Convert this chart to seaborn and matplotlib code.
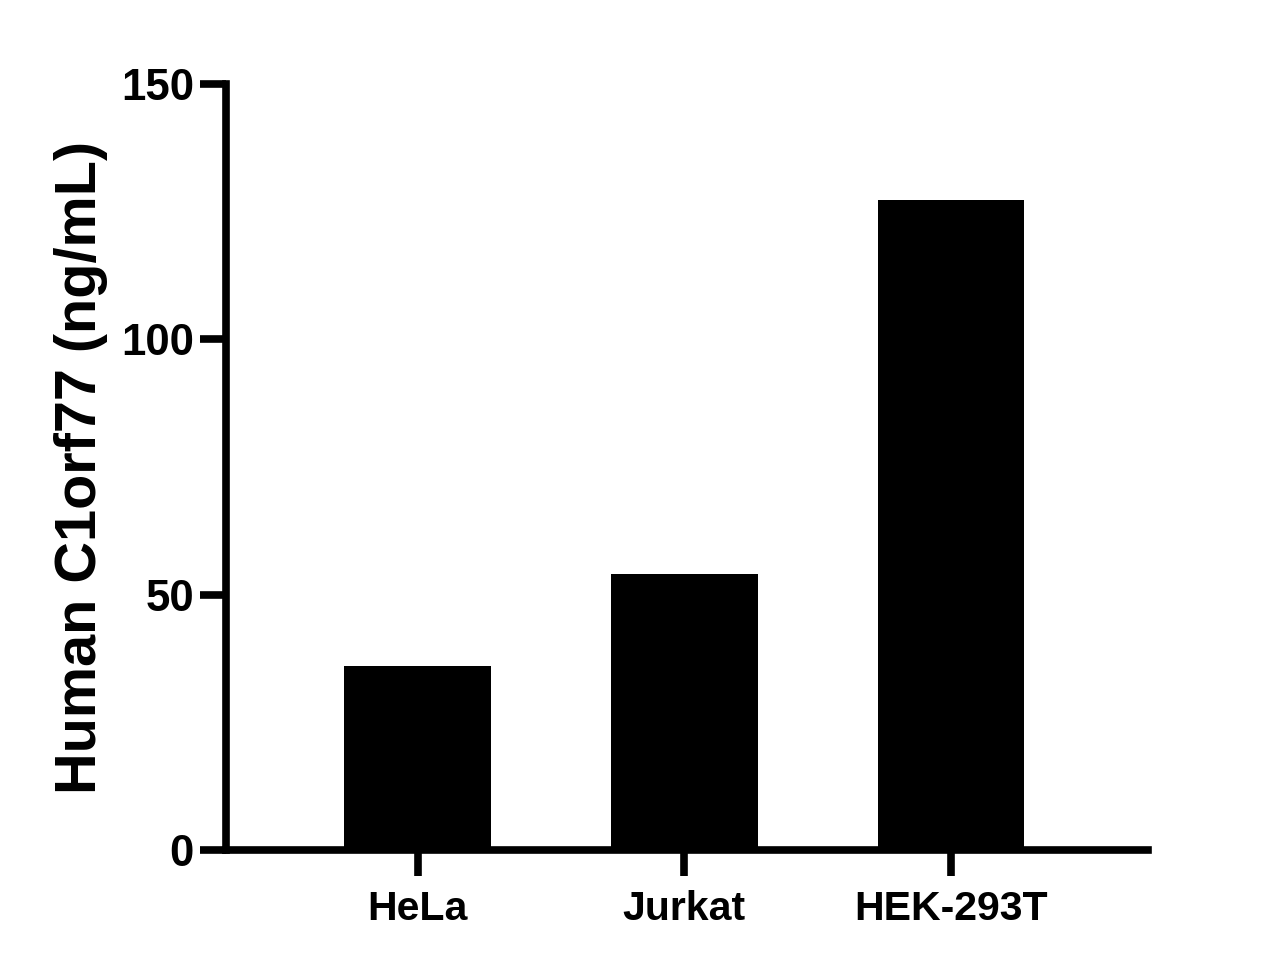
import matplotlib
matplotlib.use("Agg")
import matplotlib.pyplot as plt
import seaborn as sns
import pandas as pd

# valores
lineas = ["HeLa", "Jurkat", "HEK-293T"]
concentracion = [36.0, 54.0, 127.3]
ticks_y = [0, 50, 100, 150]

datos = pd.DataFrame({"linea": lineas, "conc": concentracion})

sns.set_style("ticks")
plt.rcParams["font.family"] = ["Liberation Sans", "DejaVu Sans"]
plt.rcParams["font.weight"] = "bold"
plt.rcParams["text.color"] = "black"
plt.rcParams["axes.labelcolor"] = "black"
plt.rcParams["xtick.color"] = "black"
plt.rcParams["ytick.color"] = "black"

fig = plt.figure(figsize=(12.83, 9.72), dpi=100)
ax = fig.add_axes([0.176, 0.1255, 0.719, 0.788])

sns.barplot(x="linea", y="conc", data=datos, color="black", width=0.55,
            saturation=1, edgecolor="black", linewidth=0, ax=ax)

ax.set_xlim(-0.72, 2.74)
ax.set_ylim(0, 150)
ax.set_yticks(ticks_y)
ax.set_yticklabels([str(t) for t in ticks_y], fontsize=31.5, fontweight="bold")
ax.set_xticks(range(len(lineas)))
ax.set_xticklabels(lineas, fontsize=29.5, fontweight="bold")
ax.set_xlabel("")
ax.set_ylabel("Human C1orf77 (ng/mL)", fontsize=41.5, fontweight="bold", labelpad=9)

for lado in ["top", "right"]:
    ax.spines[lado].set_visible(False)
for lado in ["left", "bottom"]:
    ax.spines[lado].set_linewidth(5.5)
    ax.spines[lado].set_color("black")
ax.tick_params(axis="both", width=5.5, length=19, colors="black", direction="out")
ax.tick_params(axis="y", pad=4)
ax.tick_params(axis="x", pad=10)

fig.savefig("out.png", dpi=100)
